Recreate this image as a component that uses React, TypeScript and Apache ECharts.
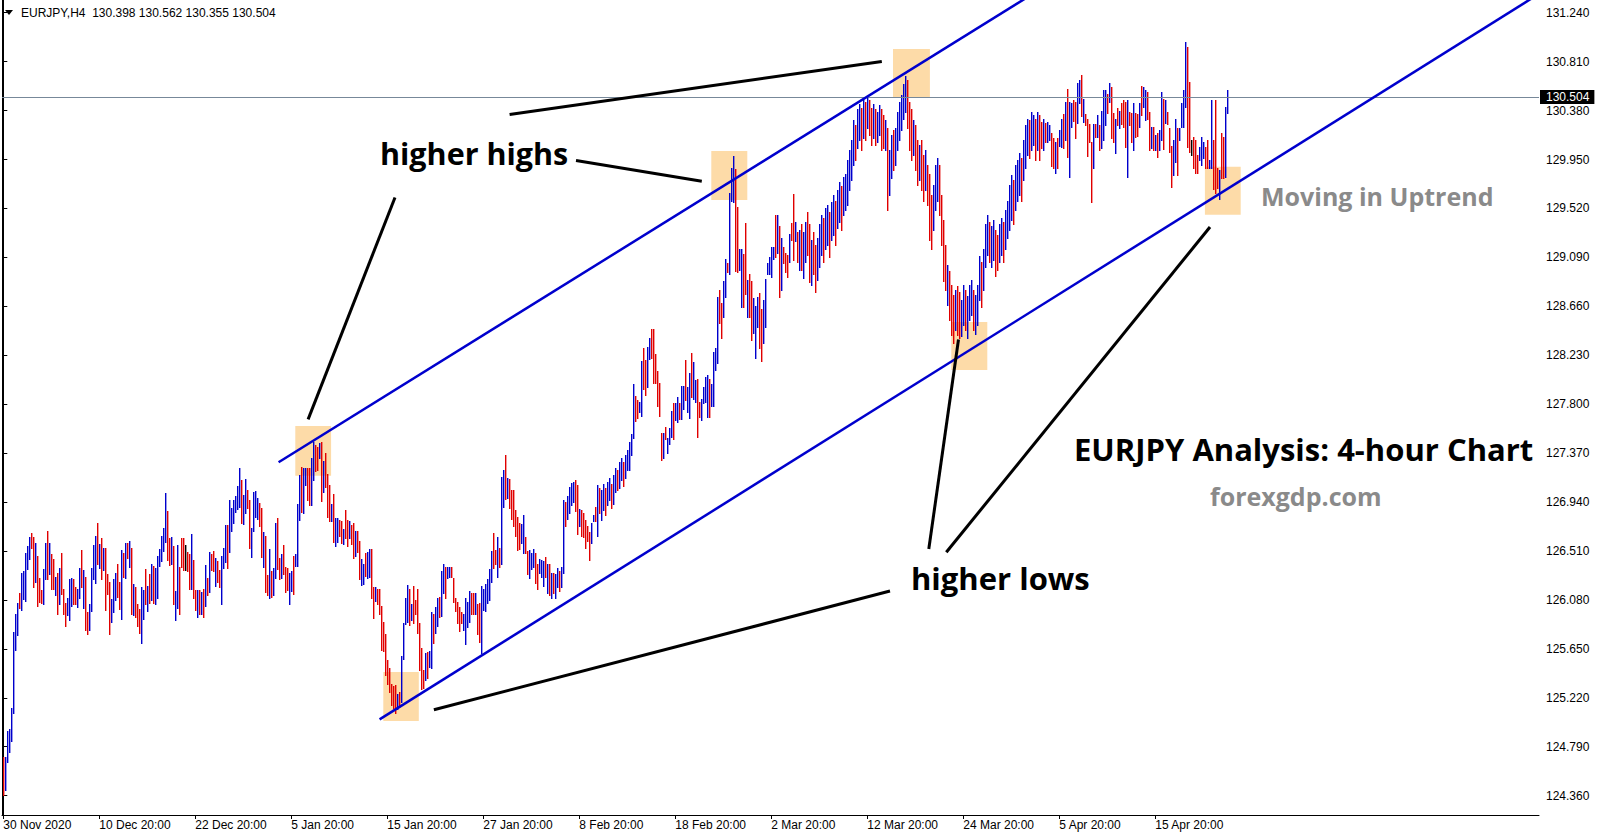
import React, { useEffect, useRef } from "react";
import * as echarts from "echarts";

// ---------------- data ----------------
const symbolName = "EURJPY,H4";
const lastOpen = 130.398;
const lastClose = 130.504;

const xTickBars = [0, 48, 96, 144, 192, 240, 288, 336, 384, 432, 480, 528, 576];
const xTickLabels = [
  "30 Nov 2020", "10 Dec 20:00", "22 Dec 20:00", "5 Jan 20:00", "15 Jan 20:00",
  "27 Jan 20:00", "8 Feb 20:00", "18 Feb 20:00", "2 Mar 20:00", "12 Mar 20:00",
  "24 Mar 20:00", "5 Apr 20:00", "15 Apr 20:00",
];
const yTickValues = [
  124.36, 124.79, 125.22, 125.65, 126.08, 126.51, 126.94, 127.37, 127.8,
  128.23, 128.66, 129.09, 129.52, 129.95, 130.38, 130.81, 131.24,
];

const highs = [
  124.70,124.70,124.93,124.95,125.13,125.80,125.96,126.05,126.14,126.32,
  126.33,126.49,126.55,126.63,126.67,126.63,126.58,126.47,126.27,126.17,
  126.35,126.58,126.69,126.58,126.48,126.44,126.28,126.32,126.36,126.49,
  126.18,126.05,126.10,126.26,126.27,126.26,126.19,126.18,126.36,126.52,
  126.34,126.28,125.97,126.04,126.36,126.56,126.64,126.76,126.57,126.62,
  126.54,126.54,126.31,126.24,126.09,126.26,126.32,126.40,126.24,126.52,
  126.49,126.58,126.58,126.60,126.54,126.22,126.19,126.04,126.00,126.19,
  126.17,126.35,126.20,126.31,126.40,126.38,126.36,126.47,126.53,126.64,
  126.71,127.02,126.86,126.62,126.63,126.55,126.16,126.56,126.37,126.62,
  126.62,126.56,126.50,126.48,126.66,126.43,126.17,126.17,126.17,126.15,
  126.18,126.39,126.27,126.50,126.48,126.51,126.45,126.42,126.34,126.47,
  126.54,126.74,126.74,126.96,126.89,126.96,126.99,127.08,127.24,127.13,
  127.00,127.14,127.05,126.96,126.71,127.03,127.04,126.98,126.93,126.89,
  126.68,126.64,126.30,126.53,126.33,126.36,126.76,126.80,126.45,126.48,
  126.56,126.37,126.36,126.32,126.33,126.47,126.48,126.92,127.18,127.25,
  127.24,127.24,127.24,127.24,127.33,127.47,127.44,127.42,127.46,127.47,
  127.30,127.37,127.19,127.09,126.92,127.01,126.80,126.80,126.78,126.77,
  126.70,126.87,126.78,126.77,126.74,126.76,126.69,126.69,126.60,126.44,
  126.40,126.49,126.50,126.53,126.53,126.19,126.19,126.18,126.18,126.03,
  125.89,125.78,125.55,125.48,125.34,125.32,125.33,125.25,125.27,125.59,
  125.88,126.10,126.21,126.18,126.04,126.20,126.08,126.18,125.88,125.66,
  125.46,125.61,125.62,125.63,125.97,125.96,126.02,126.10,126.11,126.33,
  126.40,126.37,126.37,126.37,126.37,126.27,126.10,126.06,126.02,125.97,
  125.96,126.10,126.06,126.16,126.14,126.14,126.14,126.04,126.05,126.20,
  126.18,126.22,126.26,126.35,126.51,126.67,126.52,126.63,126.54,127.16,
  127.22,127.35,127.15,127.14,127.05,127.05,126.87,126.81,126.76,126.75,
  126.83,126.63,126.51,126.52,126.49,126.53,126.49,126.40,126.44,126.43,
  126.42,126.46,126.40,126.40,126.32,126.32,126.31,126.36,126.33,126.37,
  126.96,126.94,126.99,127.07,127.11,127.12,127.13,127.09,126.88,126.87,
  126.84,126.78,126.73,126.68,126.76,126.83,126.90,127.09,127.06,127.05,
  127.10,127.06,127.12,127.15,127.10,127.18,127.24,127.22,127.29,127.33,
  127.29,127.35,127.40,127.47,127.54,127.98,127.87,127.84,127.82,128.18,
  128.29,128.19,128.30,128.38,128.46,128.46,128.24,128.09,127.99,127.55,
  127.55,127.60,127.50,127.59,127.74,127.81,127.81,127.86,127.81,127.96,
  127.96,128.19,127.95,128.07,128.25,128.17,128.01,128.02,127.82,127.85,
  127.95,128.04,128.06,128.02,127.98,128.26,128.29,128.74,128.80,128.69,
  128.88,129.08,129.04,129.66,129.88,129.98,129.87,129.53,129.16,129.16,
  129.12,129.39,128.89,128.94,128.88,128.73,128.66,128.74,128.78,128.64,
  128.72,128.90,129.04,129.09,129.18,129.18,129.46,129.46,129.37,129.26,
  129.18,129.13,129.11,129.30,129.39,129.65,129.40,129.31,129.33,129.38,
  129.31,129.40,129.49,129.38,129.24,129.31,129.20,129.26,129.38,129.46,
  129.44,129.52,129.55,129.49,129.58,129.64,129.59,129.68,129.75,129.72,
  129.80,129.82,129.95,130.03,130.12,130.30,130.25,130.39,130.44,130.40,
  130.47,130.46,130.50,130.47,130.40,130.44,130.39,130.37,130.43,130.39,
  130.34,130.30,130.23,130.03,130.17,130.21,130.23,130.37,130.46,130.52,
  130.61,130.68,130.65,130.46,130.39,130.30,130.25,130.12,130.08,130.12,
  129.99,130.03,129.90,129.82,129.64,129.73,129.90,129.96,129.90,129.64,
  129.42,129.20,129.02,128.97,128.85,128.76,128.80,128.84,128.79,128.72,
  128.85,128.80,128.75,128.85,128.89,128.80,128.76,128.85,129.10,129.05,
  129.16,129.38,129.46,129.40,129.37,129.42,129.33,129.29,129.38,129.44,
  129.40,129.51,129.59,129.73,129.81,129.77,129.90,129.95,130.01,129.96,
  130.12,130.25,130.31,130.30,130.37,130.34,130.31,130.37,130.34,130.28,
  130.31,130.27,130.28,130.25,130.18,130.14,130.10,130.14,130.21,130.31,
  130.35,130.46,130.57,130.46,130.45,130.47,130.46,130.62,130.65,130.69,
  130.48,130.35,130.31,130.26,130.10,130.26,130.26,130.34,130.25,130.38,
  130.56,130.56,130.53,130.62,130.59,130.36,130.31,130.40,130.38,130.45,
  130.47,130.46,130.47,130.37,130.36,130.45,130.36,130.35,130.45,130.60,
  130.59,130.56,130.54,130.37,130.24,130.24,130.17,130.18,130.21,130.54,
  130.48,130.47,130.37,130.23,130.07,130.12,130.31,130.23,130.23,130.45,
  130.56,130.98,130.94,130.63,130.12,130.15,130.12,129.99,130.06,130.15,
  130.10,130.06,130.12,129.95,130.47,130.12,130.47,129.88,129.86,130.18,
  130.15,130.41,130.562,
];

const lows = [
  124.37,124.41,124.66,124.74,124.84,125.09,125.64,125.77,126.01,125.99,
  126.09,126.07,126.35,126.44,126.54,126.19,126.24,126.03,126.06,126.05,
  126.04,126.26,126.26,126.31,126.18,126.18,126.12,125.96,126.04,126.13,
  125.96,125.85,125.95,125.90,126.03,126.04,126.04,126.02,126.10,126.19,
  126.01,125.82,125.78,125.82,125.98,126.26,126.23,126.40,126.36,126.26,
  126.34,125.99,126.13,125.78,125.89,125.97,126.08,126.11,126.00,125.91,
  126.28,126.27,126.45,126.37,125.96,125.95,125.93,125.85,125.79,125.70,
  125.91,126.04,125.98,126.05,126.08,126.05,126.04,126.10,126.38,126.42,
  126.51,126.59,126.43,126.39,126.40,126.04,125.90,126.01,125.96,126.37,
  126.34,126.34,126.33,126.18,126.18,126.10,125.99,125.93,125.96,125.96,
  125.93,126.03,126.12,126.15,126.34,126.33,126.20,126.24,126.19,126.04,
  126.36,126.41,126.36,126.50,126.69,126.76,126.85,126.88,126.90,126.76,
  126.75,126.84,126.89,126.54,126.46,126.69,126.81,126.79,126.73,126.46,
  126.37,126.15,126.12,126.10,126.11,126.12,126.27,126.35,126.26,126.27,
  126.31,126.15,126.17,126.04,126.16,126.13,126.38,126.38,126.78,126.85,
  126.84,127.09,126.96,126.91,126.91,127.13,127.21,127.22,127.33,126.95,
  127.03,127.07,126.81,126.77,126.77,126.59,126.55,126.59,126.64,126.58,
  126.57,126.62,126.55,126.62,126.57,126.45,126.47,126.50,126.26,126.21,
  126.22,126.29,126.27,126.28,126.10,125.92,126.07,126.04,125.96,125.64,
  125.63,125.42,125.34,125.27,125.16,125.13,125.09,125.12,125.14,125.18,
  125.56,125.87,125.89,125.86,125.90,125.88,125.96,125.79,125.46,125.30,
  125.31,125.38,125.39,125.49,125.48,125.70,125.79,125.85,125.93,125.94,
  126.14,126.10,126.27,126.28,126.28,126.06,125.98,125.88,125.81,125.88,
  125.82,125.69,125.84,125.89,125.96,125.96,125.96,125.78,125.71,125.61,
  125.99,125.98,126.05,126.08,126.24,126.36,126.40,126.28,126.37,126.40,
  126.90,126.97,126.98,126.89,126.79,126.73,126.64,126.52,126.53,126.58,
  126.49,126.49,126.31,126.27,126.35,126.37,126.23,126.18,126.32,126.28,
  126.20,126.28,126.14,126.12,126.10,126.14,126.10,126.19,126.16,126.19,
  126.32,126.73,126.79,126.84,126.91,126.94,126.86,126.66,126.73,126.64,
  126.63,126.54,126.60,126.43,126.58,126.77,126.77,126.64,126.84,126.78,
  126.87,126.83,126.91,126.96,126.89,126.92,127.03,127.05,127.06,127.13,
  127.08,127.15,127.22,127.22,127.35,127.50,127.65,127.68,127.73,127.70,
  127.93,127.88,127.95,128.20,128.21,127.99,127.99,127.78,127.70,127.31,
  127.33,127.49,127.37,127.45,127.51,127.49,127.66,127.64,127.67,127.67,
  127.76,127.84,127.73,127.68,127.86,127.85,127.82,127.51,127.69,127.66,
  127.81,127.82,127.69,127.69,127.78,127.78,128.10,128.16,128.51,128.38,
  128.57,128.74,128.96,128.94,129.59,129.58,128.97,128.96,128.98,128.65,
  128.65,128.77,128.57,128.57,128.36,128.43,128.21,128.48,128.29,128.18,
  128.34,128.48,128.94,128.94,128.92,129.08,129.09,129.13,128.74,128.80,
  129.04,128.96,128.92,129.05,129.24,129.07,129.23,129.05,128.98,128.98,
  128.91,129.05,129.11,128.87,128.85,128.94,128.79,128.89,129.01,129.11,
  129.05,129.16,129.20,129.09,129.24,129.29,129.20,129.35,129.40,129.33,
  129.46,129.51,129.55,129.68,129.77,129.90,129.95,130.05,130.12,130.03,
  130.14,130.12,130.23,130.17,130.08,130.14,130.08,130.10,130.17,130.03,
  130.05,130.03,129.51,129.64,129.79,129.86,129.90,130.03,130.12,130.21,
  130.31,130.37,130.23,130.03,129.95,129.99,129.86,129.73,129.77,129.68,
  129.59,129.68,129.55,129.24,129.16,129.33,129.51,129.59,129.46,129.20,
  128.88,128.80,128.67,128.54,128.41,128.34,128.45,128.41,128.38,128.40,
  128.50,128.45,128.38,128.54,128.58,128.45,128.42,128.50,128.72,128.65,
  128.80,129.01,129.11,129.05,129.01,129.07,128.93,128.98,129.05,129.11,
  129.05,129.16,129.26,129.33,129.42,129.38,129.51,129.59,129.64,129.59,
  129.77,129.88,129.99,129.96,130.03,130.08,129.95,130.03,129.95,130.05,
  130.03,130.10,130.10,130.12,129.89,129.88,129.83,129.88,130.07,130.06,
  130.05,130.12,129.97,129.80,130.24,130.29,130.14,130.27,130.45,130.33,
  130.28,130.25,129.98,130.10,129.58,129.88,130.15,130.15,130.03,130.05,
  130.12,130.25,130.36,130.46,130.14,130.10,130.01,130.25,130.23,130.26,
  130.24,130.06,129.80,130.25,130.10,130.03,130.15,130.16,130.24,130.34,
  130.41,130.30,130.31,130.03,130.05,130.03,130.03,129.97,130.03,130.12,
  130.04,130.27,130.26,130.02,129.71,129.81,129.93,129.81,130.12,130.24,
  130.24,130.41,130.06,130.02,129.99,129.88,129.83,129.83,129.95,129.90,
  129.96,129.88,129.88,129.88,129.88,129.69,129.66,129.70,129.60,129.79,
  129.79,129.80,130.355,
];

// b = up bar (blue), r = down bar (red), k = unchanged (black)
const barColors = (
  "rbbbbbbbrb bbbbrrbrrr bbrbrrbrbr rrbbbrrbbr brrbbbbrbr brrrbbbrrb rbrbrbrrrb brbrbrbbbb bbrrbrbbrr rkrrbrrbrb " +
  "rbrbrrbrrb bbrbbbbbbr bbrrbbbbrr brrbrbbrrb rrrbbrbbbr bbrrbbrrbr brrrbrbbrr brrbrrbrrb brbbrrbrrr rrrrrrrbrb " +
  "bbbrbrrrrr rbrbbrbbrb brbbrrrrrr bbbbrrbrrb bbbbbrrbrb brbrrrrrrb brrbbbrrbb brbrbrbbrb brbbbbrrbr rrrrbbrbrb " +
  "brbbrbbrbb rbbbbbrrbb rrbbrrrrrr brbbbrbbrb brbbrbbrrb bbbrbbbbrr bbrbbbrrbb rrbrrbbbrr bbbbbbrbrb rrrbrrbrbr " +
  "bbrrbrrbbb rbbrbbrbbr bbbbbbrbbr brbrrbrbbr rbrbbrbbbb bbrrrbrrbr rbrrrbbbrr rrbrrrbrrb brbbbrbbbr bbbrbbrrbb " +
  "rbbbbrbbbr bbbrbbrbrr brbbrrbrbb rbrbbrrbbr brrrrbrbrb bbrbrrbrbr rrbrrbrrbr bbrrbrbrbb rbrrrbbrbb bbrrkrrrbb " +
  "brrbbrrrbr rbb"
).replace(/ /g, "");

// analyst's drawings: [bar index, price]
const upperChannel = [[137.65, 127.29], [560, 131.9]];
const lowerChannel = [[188.15, 125.03], [800, 131.76]];
const pointerLines = [
  [[253.15, 130.345], [439.25, 130.812]],
  [[286.35, 129.941], [349.25, 129.759]],
  [[195.85, 129.617], [152.4, 127.667]],
  [[215.3, 125.115], [443.35, 126.158]],
  [[462.75, 126.527], [477.6, 128.368]],
  [[471.5, 126.499], [603.35, 129.357]],
];
// highlight boxes: [barFrom, priceTop, barTo, priceBottom]
const highlightBoxes = [
  [146.0, 127.608, 163.9, 127.171],
  [190.0, 125.447, 207.75, 125.016],
  [354.0, 130.025, 372.0, 129.594],
  [444.85, 130.921, 463.3, 130.49],
  [474.0, 128.522, 492.0, 128.1],
  [600.8, 129.887, 618.7, 129.465],
];

const annotationTexts = [
  { text: "higher highs", x: 380, y: 153, size: 30.5, color: "#000000" },
  { text: "higher lows", x: 911, y: 578, size: 31, color: "#000000" },
  { text: "Moving in Uptrend", x: 1261, y: 196, size: 25, color: "#8a8a8a" },
  { text: "EURJPY Analysis: 4-hour Chart", x: 1074, y: 449, size: 31, color: "#000000" },
  { text: "forexgdp.com", x: 1210, y: 496, size: 25, color: "#8a8a8a" },
];

const CODE: Record<string, number> = { b: 0, r: 1, k: 2 };
const CODE_COLORS = ["#0000CC", "#E00000", "#000000"];
const AXIS_FONT = "Liberation Sans";

export default function App() {
  const ref = useRef<HTMLDivElement>(null);

  useEffect(() => {
    document.body.style.margin = "0";
    document.body.style.overflow = "hidden";
    if (!ref.current) return;
    const chart = echarts.init(ref.current, undefined, { renderer: "svg" });

    const barData = highs.map((h, i) => [i, lows[i], h, CODE[barColors[i]] ?? 0]);
    const labelMap: Record<number, string> = {};
    xTickBars.forEach((b, k) => (labelMap[b] = xTickLabels[k]));

    const yMin = 124.19;
    const yMax = 131.352;

    const lineSeries = (data: number[][], color: string, width: number) => ({
      type: "line",
      data,
      showSymbol: false,
      symbol: "none",
      silent: true,
      clip: true,
      z: 6,
      lineStyle: { color, width, cap: "butt" },
      animation: false,
    });

    const header = `${symbolName}  ${lastOpen.toFixed(3)} ${highs[highs.length - 1].toFixed(3)} ${lows[lows.length - 1].toFixed(3)} ${lastClose.toFixed(3)}`;

    const option: any = {
      animation: false,
      backgroundColor: "#ffffff",
      grid: { left: 2, right: 64, top: 0, bottom: 23, containLabel: false },
      xAxis: {
        type: "value",
        min: -0.65,
        max: 767.85,
        axisLine: { show: true, lineStyle: { color: "#000", width: 1 } },
        axisTick: { show: true, customValues: xTickBars, length: 4, lineStyle: { color: "#000" } },
        axisLabel: {
          show: true,
          customValues: xTickBars,
          formatter: (v: number) => labelMap[Math.round(v)] ?? "",
          align: "left",
          margin: 4,
          color: "#000",
          fontFamily: AXIS_FONT,
          fontSize: 12,
        },
        splitLine: { show: false },
      },
      yAxis: [
        {
          type: "value",
          position: "right",
          min: yMin,
          max: yMax,
          axisLine: { show: true, lineStyle: { color: "#000", width: 1 } },
          axisTick: { show: true, customValues: yTickValues, length: 4, lineStyle: { color: "#000" } },
          axisLabel: {
            show: true,
            customValues: yTickValues,
            formatter: (v: number) => v.toFixed(3),
            margin: 7,
            color: "#000",
            fontFamily: AXIS_FONT,
            fontSize: 12,
          },
          splitLine: { show: false },
        },
        {
          type: "value",
          position: "left",
          min: yMin,
          max: yMax,
          axisLine: { show: true, lineStyle: { color: "#000", width: 1 } },
          axisTick: { show: false },
          axisLabel: { show: false },
          splitLine: { show: false },
        },
      ],
      series: [
        {
          type: "custom",
          name: "boxes",
          data: highlightBoxes,
          z: 1,
          silent: true,
          renderItem: (_p: any, api: any) => {
            const a = api.coord([api.value(0), api.value(1)]);
            const b = api.coord([api.value(2), api.value(3)]);
            return {
              type: "rect",
              shape: { x: a[0], y: a[1], width: b[0] - a[0], height: b[1] - a[1] },
              style: { fill: "#FDDBA8" },
            };
          },
        },
        {
          type: "custom",
          name: "bars",
          data: barData,
          z: 3,
          silent: true,
          renderItem: (_p: any, api: any) => {
            const i = api.value(0);
            const lo = api.coord([i, api.value(1)]);
            const hi = api.coord([i, api.value(2)]);
            const x = Math.floor(lo[0]);
            const y1 = Math.round(hi[1]);
            const y2 = Math.round(lo[1]);
            return {
              type: "rect",
              shape: { x, y: y1, width: 1.4, height: Math.max(1, y2 - y1 + 1) },
              style: { fill: CODE_COLORS[api.value(3)] },
            };
          },
          markLine: {
            silent: true,
            symbol: ["none", "none"],
            lineStyle: { color: "#778899", width: 1, type: "solid" },
            label: {
              show: true,
              position: "end",
              formatter: lastClose.toFixed(3),
              backgroundColor: "#000",
              color: "#fff",
              padding: [1, 5, 1, 6],
              distance: 1,
              fontFamily: AXIS_FONT,
              fontSize: 12,
            },
            data: [{ yAxis: lastClose }],
          },
        },
        lineSeries(upperChannel, "#0000CD", 2.5),
        lineSeries(lowerChannel, "#0000CD", 2.5),
        ...pointerLines.map((l) => lineSeries(l, "#000000", 3)),
      ],
      graphic: [
        {
          type: "polygon",
          z: 100,
          shape: { points: [[5, 10], [13, 10], [9, 15]] },
          style: { fill: "#000" },
        },
        {
          type: "text",
          z: 100,
          x: 21,
          y: 13,
          style: {
            text: header,
            fill: "#000",
            fontFamily: AXIS_FONT,
            fontSize: 12,
            verticalAlign: "middle",
          },
        },
        ...annotationTexts.map((t) => ({
          type: "text",
          z: 100,
          x: t.x,
          y: t.y,
          style: {
            text: t.text,
            fill: t.color,
            fontFamily: "Open Sans",
            fontWeight: "bold",
            fontSize: t.size,
            verticalAlign: "middle",
          },
        })),
      ],
    };

    chart.setOption(option);
    return () => chart.dispose();
  }, []);

  return <div ref={ref} style={{ width: 1603, height: 838 }} />;
}
